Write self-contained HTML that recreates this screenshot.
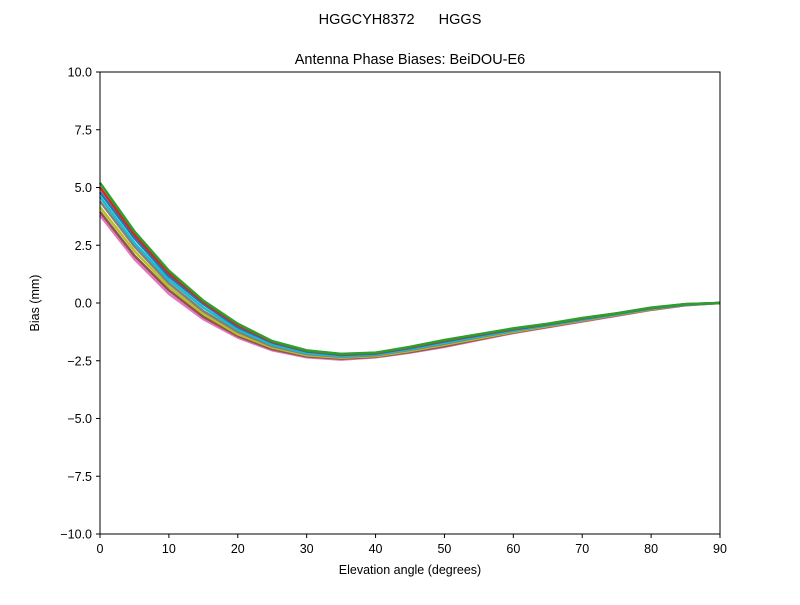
<!DOCTYPE html>
<html><head><meta charset="utf-8"><style>
body{margin:0;background:#fff}
svg{font-family:"Liberation Sans","DejaVu Sans",sans-serif}
</style></head><body>
<svg id="chart" width="800" height="600" viewBox="0 0 800 600">
<rect width="800" height="600" fill="#fff"/>
<text x="400" y="24" font-size="14.5" text-anchor="middle" style="white-space:pre" xml:space="preserve">HGGCYH8372      HGGS</text>
<text x="410" y="64" font-size="14.5" text-anchor="middle">Antenna Phase Biases: BeiDOU-E6</text>
<g id="marks"></g>
<rect x="100" y="72" width="620" height="462" fill="none" stroke="#000" stroke-width="1"/>
<g id="axes" font-size="12.5"></g>
<text x="410" y="574" font-size="12.5" text-anchor="middle">Elevation angle (degrees)</text>
<text x="39" y="303" font-size="12.5" text-anchor="middle" transform="rotate(-90 39 303)">Bias (mm)</text>
</svg>
<script>
const elevations=[0,5,10,15,20,25,30,35,40,45,50,55,60,65,70,75,80,85,90];
const s1=[3.8,1.9,0.4,-0.7,-1.5,-2.05,-2.35,-2.45,-2.35,-2.15,-1.9,-1.6,-1.3,-1.05,-0.8,-0.55,-0.3,-0.1,0];
const s2=[3.95,2.05,0.55,-0.6,-1.43,-2.0,-2.31,-2.41,-2.33,-2.12,-1.87,-1.57,-1.28,-1.03,-0.78,-0.53,-0.29,-0.09,0];
const s3=[4.15,2.25,0.7,-0.47,-1.35,-1.93,-2.26,-2.37,-2.3,-2.08,-1.81,-1.53,-1.25,-1.0,-0.76,-0.51,-0.27,-0.08,0];
const s4=[4.4,2.45,0.85,-0.35,-1.25,-1.87,-2.21,-2.33,-2.26,-2.03,-1.76,-1.48,-1.21,-0.97,-0.73,-0.49,-0.25,-0.08,0];
const s5=[4.6,2.6,1.0,-0.2,-1.15,-1.8,-2.17,-2.3,-2.23,-2.0,-1.72,-1.45,-1.19,-0.96,-0.71,-0.48,-0.24,-0.07,0];
const s6=[4.8,2.8,1.15,-0.05,-1.05,-1.72,-2.1,-2.25,-2.19,-1.95,-1.66,-1.4,-1.15,-0.93,-0.68,-0.46,-0.22,-0.06,0];
const s7=[5.0,2.95,1.28,0.03,-0.97,-1.68,-2.07,-2.22,-2.17,-1.92,-1.63,-1.37,-1.12,-0.91,-0.66,-0.45,-0.21,-0.05,0];
const s8=[5.2,3.1,1.4,0.1,-0.9,-1.65,-2.05,-2.2,-2.15,-1.9,-1.6,-1.35,-1.1,-0.9,-0.65,-0.45,-0.2,-0.05,0];
const seriesList=[s1,s2,s3,s4,s5,s6,s7,s8];
const xTicks=[0,10,20,30,40,50,60,70,80,90];
const yTicks=[-10,-7.5,-5,-2.5,0,2.5,5,7.5,10];
const yTickLabels=["\u221210.0","\u22127.5","\u22125.0","\u22122.5","0.0","2.5","5.0","7.5","10.0"];
const colors=["#e377c2","#8c564b","#bcbd22","#7f7f7f","#17becf","#1f77b4","#d62728","#2ca02c"];
const X=v=>100+v/90*620, Y=v=>303-v*23.1;
const NS="http://www.w3.org/2000/svg";
const marks=document.getElementById('marks');
seriesList.forEach((s,i)=>{
  const p=document.createElementNS(NS,'polyline');
  p.setAttribute('points',s.map((v,j)=>X(elevations[j])+','+Y(v)).join(' '));
  p.setAttribute('fill','none');p.setAttribute('stroke',colors[i%colors.length]);p.setAttribute('stroke-width','2.5');
  
  
  marks.appendChild(p);
});
const ax=document.getElementById('axes');
xTicks.forEach(t=>{
  const l=document.createElementNS(NS,'line');
  l.setAttribute('x1',X(t));l.setAttribute('x2',X(t));l.setAttribute('y1',534);l.setAttribute('y2',538);l.setAttribute('stroke','#000');
  
  
  ax.appendChild(l);
  const tx=document.createElementNS(NS,'text');
  tx.setAttribute('x',X(t));tx.setAttribute('y',553);tx.setAttribute('text-anchor','middle');tx.textContent=t;
  
  
  ax.appendChild(tx);
});
yTicks.forEach((t,i)=>{
  const l=document.createElementNS(NS,'line');
  l.setAttribute('x1',96);l.setAttribute('x2',100);l.setAttribute('y1',Y(t));l.setAttribute('y2',Y(t));l.setAttribute('stroke','#000');
  
  
  ax.appendChild(l);
  const tx=document.createElementNS(NS,'text');
  tx.setAttribute('x',92);tx.setAttribute('y',Y(t)+4.5);tx.setAttribute('text-anchor','end');tx.textContent=yTickLabels[i];
  
  
  ax.appendChild(tx);
});
</script>
</body></html>
